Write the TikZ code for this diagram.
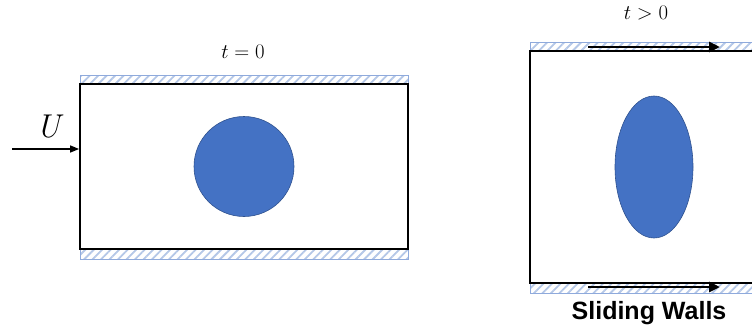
\documentclass[tikz,border=0pt]{standalone}
\usepackage{fontspec}
\setsansfont{Liberation Sans}
\usepackage{tikz}
\usetikzlibrary{positioning,arrows.meta,shapes.geometric,patterns.meta}
\definecolor{hatchF}{HTML}{B4C7E7}
\definecolor{hatchD}{HTML}{8FAADC}
\definecolor{dropF}{HTML}{4472C4}
\definecolor{dropD}{HTML}{2F528F}
\definecolor{ink}{HTML}{000000}
\tikzset{
  wall/.style={rectangle, draw=hatchD, line width=0.8pt, inner sep=0pt,
               pattern={Lines[angle=45, distance=6pt, line width=1.8pt]}, pattern color=hatchF},
  channel/.style={draw=ink, line width=1.8pt},
  drop/.style={fill=dropF, draw=dropD, line width=0.6pt, inner sep=0pt},
  inflow/.style={-{Triangle[length=9pt, width=7pt]}, line width=1.5pt, draw=ink},
  slide/.style={-{Triangle[length=11pt, width=10pt]}, line width=2.8pt, draw=ink},
  lbl/.style={font=\fontsize{21}{25}\selectfont},
}

\begin{document}
\begin{tikzpicture}[x=1pt, y=-1pt]
  \useasboundingbox (0,0) rectangle (752,335);

  % ------------------------------------------------ initial state, t = 0
  \node[wall, minimum width=328, minimum height=9] (topL) at (244,79.5) {};
  \node[wall, minimum width=328, minimum height=10] (botL) at (244,254) {};
  \node[rectangle, channel, minimum width=328, minimum height=165, inner sep=0pt] (boxL) at (244,166.5) {};
  \node[drop, circle, minimum size=100] (dropL) at (244,166.5) {};
  \node[lbl] (tL) at (243,52) {$t=0$};

  \coordinate (uStart) at (12,149);
  \draw[inflow] (uStart) -- (uStart -| boxL.west);
  \node[font=\itshape\fontsize{33}{40}\selectfont] (uLbl) at (48,127) {U};

  % ------------------------------------------------ deformed state, t > 0
  \node[wall, minimum width=223, minimum height=9] (topR) at (641.5,46.5) {};
  \node[wall, minimum width=223, minimum height=10] (botR) at (641.5,288) {};
  \draw[channel] (753,51) -- (530,51) -- (530,283) -- (753,283);
  \node[drop, ellipse, minimum width=78, minimum height=142] (dropR) at (654,167) {};
  \node[lbl] (tR) at (646,13) {$t>0$};

  \coordinate (sTop) at (588,47);
  \coordinate (sBot) at (588,287);
  \draw[slide] (sTop) -- ++(132,0);
  \draw[slide] (sBot) -- ++(132,0);

  \node[font=\sffamily\bfseries\fontsize{25}{30}\selectfont] (slideLbl) at (649,313) {Sliding Walls};
\end{tikzpicture}
\end{document}
